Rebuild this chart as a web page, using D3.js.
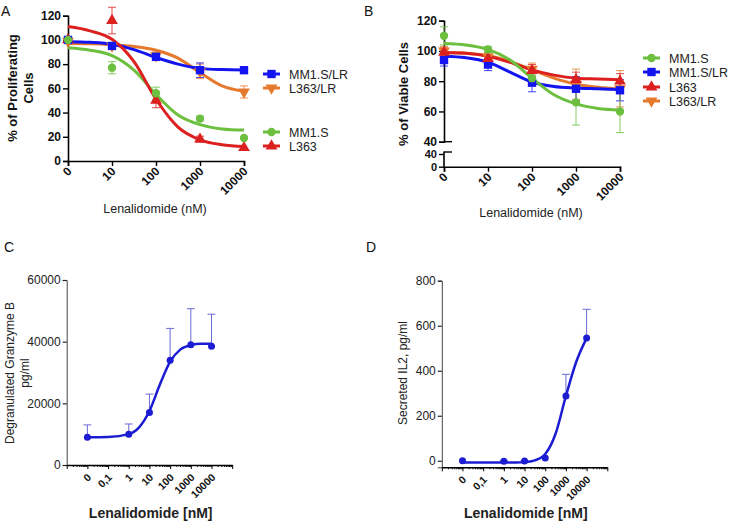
<!DOCTYPE html>
<html><head><meta charset="utf-8">
<script src="https://cdn.jsdelivr.net/npm/d3@7"></script>
<style>body{margin:0;background:#fff}svg{display:block;font-family:"Liberation Sans",Arial,sans-serif}</style>
</head><body><svg id="c" width="729" height="521"></svg>
<script>
// ---------- DATA ----------
// Panels A & B: doses (0 is drawn at the 1 nM position)
const doseLabels = ["0","10","100","1000","10000"];
const dosePos = [1, 10, 100, 1000, 10000];
const curveDoses = [1, 3.162, 10, 31.62, 100, 316.2, 1000, 3162, 10000];

// Panel A : % of proliferating cells
const aSeries = ["MM1.S/LR","L363/LR","MM1.S","L363"];
const aMM1SLR = [100, 95, 86, 75, 75];
const aMM1SLRerr = [1, 2, 3, 6, 2];
const aL363LR = [99, 95, 87, 74, 57];
const aL363LRerr = [2, 2, 3, 6, 5];
const aMM1S = [100, 77, 56, 35, 19];
const aMM1Serr = [1, 5, 5, 2, 1];
const aL363 = [100, 116, 50, 18, 11];
const aL363err = [1, 11, 6, 2.5, 1];
const aCurveMM1SLR = [98.5, 98, 96.5, 92, 85.5, 80, 76.5, 75.5, 75.2];
const aCurveL363LR = [97, 96.8, 96, 94.5, 91.5, 85, 73, 62, 57.5];
const aCurveMM1S = [93.5, 91.5, 87, 75, 55, 38, 30, 26.5, 25.5];
const aCurveL363 = [111, 107.5, 100.5, 82, 51, 28, 17.5, 13.5, 12];

// Panel B : % of viable cells
const bSeries = ["MM1.S","MM1.S/LR","L363","L363/LR"];
const bMM1S = [110, 101, 82, 66, 60];
const bMM1Serr = [6, 2, 4, 15, 14];
const bMM1SLR = [94, 91, 79, 75, 74];
const bMM1SLRerr = [4, 4, 6, 8, 7];
const bL363 = [99, 95, 87, 81, 80];
const bL363err = [3, 3, 4, 5, 5];
const bL363LR = [100, 96, 88, 78, 75];
const bL363LRerr = [3, 3, 4, 10, 12];
const bCurveMM1S = [105, 104, 101, 94, 82, 71, 65, 62, 61];
const bCurveMM1SLR = [96.5, 95.5, 92.5, 86, 79.5, 76.5, 75.5, 75, 74.5];
const bCurveL363 = [99, 98.5, 96.5, 92.5, 87.5, 84, 82, 81.5, 81];
const bCurveL363LR = [99, 98.5, 97, 93, 87.5, 82, 78, 76, 75];

// Panels C & D: doses (0 is drawn at the 0.01 nM position)
const cdLabels = ["0","0,1","1","10","100","1000","10000"];
const cdTickPos = [0.01, 0.1, 1, 10, 100, 1000, 10000];
const cdDosePos = [0.01, 1, 10, 100, 1000, 10000];
const cdCurveDoses = [0.01, 0.1, 1, 3.162, 10, 31.62, 100, 316.2, 1000, 3162, 10000];

// Panel C : degranulated granzyme B (pg/ml)
const cVals = [9000, 10000, 17000, 34000, 39000, 38500];
const cUpper = [13000, 13300, 23000, 44300, 50700, 48900];
const cCurve = [9000, 9100, 10000, 12200, 17500, 26000, 33500, 37500, 38900, 39300, 39300];

// Panel D : secreted IL2 (pg/ml)
const dVals = [0, -2, -1, 12, 288, 545];
const dUpper = [0, 0, 0, 0, 384, 673];
const dCurve = [-8, -8, -8, -7.5, -6, 2, 30, 120, 288, 440, 545];

// ---------- DRAW ----------
const svg = d3.select("#c");
const col = {green:"#6cbf3f", blue:"#1414f0", red:"#dc1f1f", orange:"#e57a2e"};

function symFor(kind, size){
  if(kind==="square") return d3.symbol(d3.symbolSquare, size||70)();
  if(kind==="circle") return d3.symbol(d3.symbolCircle, size||55)();
  return d3.symbol(d3.symbolTriangle, size||60)();
}
function marker(g, kind, x, y, color){
  g.append("path").attr("d", symFor(kind))
   .attr("transform", `translate(${x},${y})` + (kind==="down" ? " rotate(180)" : ""))
   .attr("fill", color);
}

function drawErrCurve(g, x, y, s){
  const line = d3.line().x((d,i)=>x(curveDoses[i])).y(d=>y(d)).curve(d3.curveMonotoneX);
  s.vals.forEach((v,i)=>{
    const xx = x(dosePos[i]);
    const e = s.errs[i];
    if(e<=1) return;
    g.append("line").attr("x1",xx).attr("x2",xx).attr("y1",y(v-e)).attr("y2",y(v+e)).attr("stroke",s.color).attr("stroke-width",1).attr("opacity",0.8);
    [v-e, v+e].forEach(w=>g.append("line").attr("x1",xx-4).attr("x2",xx+4).attr("y1",y(w)).attr("y2",y(w)).attr("stroke",s.color).attr("stroke-width",1).attr("opacity",0.8));
  });
  g.append("path").datum(s.curve).attr("d",line).attr("fill","none").attr("stroke",s.color).attr("stroke-width",3);
}
function drawMarkers(g, x, y, s){
  s.vals.forEach((v,i)=>marker(g, s.kind, x(dosePos[i]), y(v), s.color));
}

function xAxisAB(g, x, yPos){
  const ax = d3.axisBottom(x).tickValues(dosePos).tickFormat((d,i)=>doseLabels[i]).tickSizeOuter(0).tickSize(5);
  const a = g.append("g").attr("transform",`translate(0,${yPos})`).call(ax);
  a.select(".domain").attr("stroke","#000").attr("stroke-width",1.6);
  a.selectAll(".tick line").attr("stroke","#000").attr("stroke-width",1.4);
  a.selectAll(".tick text").attr("font-size",12).attr("font-weight","bold").attr("fill","#111")
    .attr("text-anchor","end").attr("dy",0).attr("y",0)
    .attr("transform","translate(4,11) rotate(-45)");
}

function legend(g, items, x0, ys){
  items.forEach((it,i)=>{
    g.append("line").attr("x1",x0).attr("x2",x0+17).attr("y1",ys[i]).attr("y2",ys[i]).attr("stroke",it.color).attr("stroke-width",3);
    marker(g, it.kind, x0+8.5, ys[i], it.color);
    g.append("text").attr("x",x0+26).attr("y",ys[i]).attr("dy","0.36em").attr("font-size",12.5).attr("fill","#222").text(it.name);
  });
}

// ----- Panel A -----
{
  const g = svg.append("g");
  const x = d3.scaleLog().domain([1,10000]).range([68,244]);
  const y = d3.scaleLinear().domain([0,120]).range([161,15.7]);
  const ya = g.append("g").attr("transform","translate(68,0)").call(d3.axisLeft(y).tickValues(d3.range(0,121,20)).tickSizeOuter(0).tickSize(5));
  ya.select(".domain").attr("stroke","#000").attr("stroke-width",1.6);
  ya.selectAll(".tick line").attr("stroke","#000").attr("stroke-width",1.4);
  ya.selectAll(".tick text").attr("font-size",12).attr("font-weight","bold").attr("fill","#111").attr("x",-7);
  xAxisAB(g, x, 161);
  const S = {
    orange:{vals:aL363LR, errs:aL363LRerr, curve:aCurveL363LR, color:col.orange, kind:"down"},
    blue:{vals:aMM1SLR, errs:aMM1SLRerr, curve:aCurveMM1SLR, color:col.blue, kind:"square"},
    green:{vals:aMM1S, errs:aMM1Serr, curve:aCurveMM1S, color:col.green, kind:"circle"},
    red:{vals:aL363, errs:aL363err, curve:aCurveL363, color:col.red, kind:"up"}
  };
  ["orange","blue","green","red"].forEach(k=>drawErrCurve(g,x,y,S[k]));
  ["orange","red","blue","green"].forEach(k=>drawMarkers(g,x,y,S[k]));
  g.append("text").attr("x",1).attr("y",16).attr("font-size",14).attr("fill","#111").text("A");
  const t = g.append("text").attr("transform","translate(19,88) rotate(-90)").attr("text-anchor","middle").attr("font-size",13).attr("font-weight","bold").attr("fill","#111");
  t.append("tspan").attr("x",0).attr("y",-2).text("% of Proliferating");
  t.append("tspan").attr("x",0).attr("y",14).text("Cells");
  g.append("text").attr("x",155).attr("y",213).attr("text-anchor","middle").attr("font-size",12.5).attr("fill","#222").text("Lenalidomide (nM)");
  legend(g, [
    {name:aSeries[0], color:col.blue, kind:"square"},
    {name:aSeries[1], color:col.orange, kind:"down"},
    {name:aSeries[2], color:col.green, kind:"circle"},
    {name:aSeries[3], color:col.red, kind:"up"}
  ], 263, [74, 88, 132, 146]);
}

// ----- Panel B -----
{
  const g = svg.append("g");
  const x = d3.scaleLog().domain([1,10000]).range([444,620]);
  const y = d3.scaleLinear().domain([40,120]).range([141.7,20.7]);
  const yLow = d3.scaleLinear().domain([0,40]).range([166.7,154]);
  const ya = g.append("g").attr("transform","translate(444,0)").call(d3.axisLeft(y).tickValues(d3.range(40,121,20)).tickSizeOuter(0).tickSize(5));
  ya.select(".domain").attr("stroke","#000").attr("stroke-width",1.6);
  ya.selectAll(".tick line").attr("stroke","#000").attr("stroke-width",1.4);
  ya.selectAll(".tick text").attr("font-size",12).attr("font-weight","bold").attr("fill","#111").attr("x",-7);
  g.append("line").attr("x1",444).attr("x2",452).attr("y1",y(40)).attr("y2",y(40)).attr("stroke","#000").attr("stroke-width",1.4);
  const yb = g.append("g").attr("transform","translate(444,0)").call(d3.axisLeft(yLow).tickValues([0,40]).tickSizeOuter(0).tickSize(5));
  yb.select(".domain").attr("stroke","#000").attr("stroke-width",1.6).attr("d","M0,151.5V166.7");
  yb.selectAll(".tick line").attr("stroke","#000").attr("stroke-width",1.4);
  yb.selectAll(".tick text").attr("font-size",11).attr("font-weight","bold").attr("fill","#111").attr("x",-7);
  g.append("line").attr("x1",444).attr("x2",452).attr("y1",152).attr("y2",152).attr("stroke","#000").attr("stroke-width",1.4);
  xAxisAB(g, x, 166.7);
  const S = {
    orange:{vals:bL363LR, errs:bL363LRerr, curve:bCurveL363LR, color:col.orange, kind:"down"},
    blue:{vals:bMM1SLR, errs:bMM1SLRerr, curve:bCurveMM1SLR, color:col.blue, kind:"square"},
    red:{vals:bL363, errs:bL363err, curve:bCurveL363, color:col.red, kind:"up"},
    green:{vals:bMM1S, errs:bMM1Serr, curve:bCurveMM1S, color:col.green, kind:"circle"}
  };
  ["orange","blue","red","green"].forEach(k=>drawErrCurve(g,x,y,S[k]));
  ["orange","blue","red","green"].forEach(k=>drawMarkers(g,x,y,S[k]));
  g.append("text").attr("x",364).attr("y",16).attr("font-size",14).attr("fill","#111").text("B");
  g.append("text").attr("transform","translate(408,94) rotate(-90)").attr("text-anchor","middle").attr("font-size",13).attr("font-weight","bold").attr("fill","#111").text("% of Viable Cells");
  g.append("text").attr("x",531).attr("y",217).attr("text-anchor","middle").attr("font-size",12.5).attr("fill","#222").text("Lenalidomide (nM)");
  legend(g, [
    {name:bSeries[0], color:col.green, kind:"circle"},
    {name:bSeries[1], color:col.blue, kind:"square"},
    {name:bSeries[2], color:col.red, kind:"up"},
    {name:bSeries[3], color:col.orange, kind:"down"}
  ], 643, [58, 72, 87, 101]);
}

// ----- Panels C & D -----
function panelCD(opts){
  const g = svg.append("g");
  const x = d3.scaleLog().domain([0.001,100000]).range([opts.x0, opts.x0+165.5]);
  const y = d3.scaleLinear().domain(opts.ydom).range(opts.yrange);
  const ya = g.append("g").attr("transform",`translate(${opts.x0},0)`).call(d3.axisLeft(y).tickValues(opts.yticks).tickFormat(d3.format("d")).tickSizeOuter(0).tickSize(4));
  ya.select(".domain").attr("stroke","#444").attr("stroke-width",1);
  ya.selectAll(".tick line").attr("stroke","#222").attr("stroke-width",1.2);
  ya.selectAll(".tick text").attr("font-size",12).attr("fill","#222").attr("x",-6);
  const yb = opts.yrange[0];
  const minor = [];
  for(let e=-3;e<5;e++) for(let k=2;k<10;k++) minor.push(k*Math.pow(10,e));
  g.append("g").attr("transform",`translate(0,${yb})`).call(d3.axisBottom(x).tickValues(minor).tickFormat("").tickSize(2).tickSizeOuter(0))
    .call(a=>{a.select(".domain").remove(); a.selectAll(".tick line").attr("stroke","#111");});
  const major = d3.range(-3,6).map(e=>Math.pow(10,e));
  const xa = g.append("g").attr("transform",`translate(0,${yb})`).call(d3.axisBottom(x).tickValues(major).tickFormat("").tickSize(4).tickSizeOuter(0));
  xa.select(".domain").attr("stroke","#000").attr("stroke-width",1.6);
  xa.selectAll(".tick line").attr("stroke","#000");
  const lab = g.append("g").attr("transform",`translate(0,${yb})`).call(d3.axisBottom(x).tickValues(cdTickPos).tickFormat((d,i)=>cdLabels[i]).tickSize(0));
  lab.select(".domain").remove();
  lab.selectAll(".tick text").attr("font-size",10.5).attr("font-weight","bold").attr("fill","#111")
    .attr("text-anchor","end").attr("y",0).attr("dy",0).attr("transform","translate(4,13) rotate(-45)");
  const color = "#1c1cd2";
  opts.vals.forEach((v,i)=>{
    const u = opts.upper[i];
    if(u<=v) return;
    const xx = x(cdDosePos[i]);
    g.append("line").attr("x1",xx).attr("x2",xx).attr("y1",y(v)).attr("y2",y(u)).attr("stroke","#6a6ad8").attr("stroke-width",1);
    g.append("line").attr("x1",xx-4).attr("x2",xx+4).attr("y1",y(u)).attr("y2",y(u)).attr("stroke","#6a6ad8").attr("stroke-width",1);
  });
  const line = d3.line().x((d,i)=>x(cdCurveDoses[i])).y(d=>y(d)).curve(d3.curveMonotoneX);
  g.append("path").datum(opts.curve).attr("d",line).attr("fill","none").attr("stroke",color).attr("stroke-width",2.5);
  opts.vals.forEach((v,i)=>g.append("circle").attr("cx",x(cdDosePos[i])).attr("cy",y(v)).attr("r",3.5).attr("fill",color));
  g.append("text").attr("x",opts.letterX).attr("y",252).attr("font-size",14).attr("fill","#111").text(opts.letter);
  const t = g.append("text").attr("transform",`translate(${opts.titleX},373) rotate(-90)`).attr("text-anchor","middle").attr("font-size",12).attr("fill","#222");
  opts.title.forEach((s,i)=>t.append("tspan").attr("x",0).attr("y",i*15).text(s));
  g.append("text").attr("x",opts.x0+84).attr("y",518).attr("text-anchor","middle").attr("font-size",14).attr("font-weight","bold").attr("fill","#222").text("Lenalidomide [nM]");
}

panelCD({x0:66.7, ydom:[0,60000], yrange:[465,280], yticks:[0,20000,40000,60000],
  vals:cVals, upper:cUpper, curve:cCurve, letter:"C", letterX:4, titleX:14,
  title:["Degranulated Granzyme B","pg/ml"]});
panelCD({x0:441.8, ydom:[-29,800], yrange:[467.3,280.7], yticks:[0,200,400,600,800],
  vals:dVals, upper:dUpper, curve:dCurve, letter:"D", letterX:366, titleX:407,
  title:["Secreted IL2, pg/ml"]});
</script></body></html>
